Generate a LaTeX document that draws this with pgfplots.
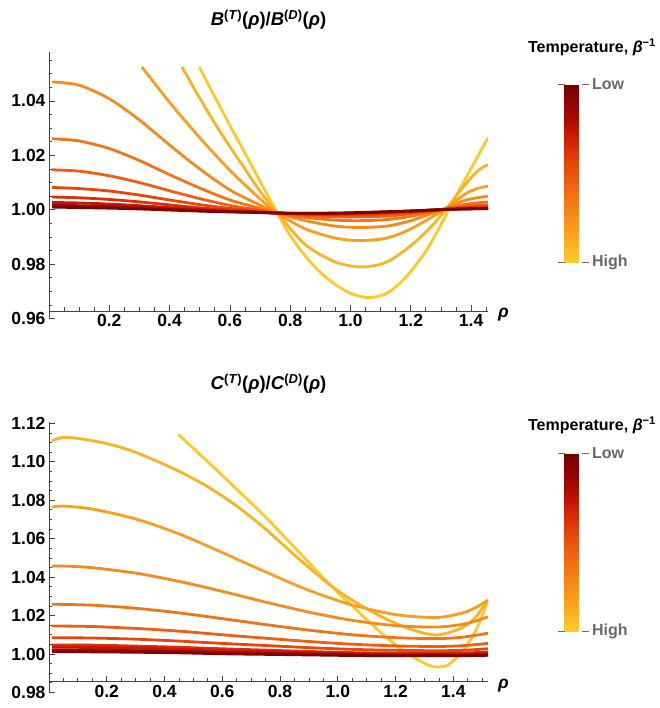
\documentclass[border=0pt]{standalone}
\usepackage{pgfplots}
\pgfplotsset{compat=1.18}
\usepackage{fontspec}
\setmainfont{Liberation Sans}

\newcommand{\ticfont}{\fontsize{17.5}{20}\selectfont\bfseries}
\newcommand{\ttlfont}{\fontsize{18.5}{21}\selectfont\bfseries}
\newcommand{\cbfont}{\fontsize{16}{19}\selectfont\bfseries}
\definecolor{axgray}{RGB}{70,70,70}
\definecolor{labgray}{RGB}{105,105,105}
% curve colours, high temperature (k1) to low (k11)
\definecolor{k1}{RGB}{254,200,39}
\definecolor{k2}{RGB}{252,178,33}
\definecolor{k3}{RGB}{249,158,29}
\definecolor{k4}{RGB}{246,139,26}
\definecolor{k5}{RGB}{243,116,21}
\definecolor{k6}{RGB}{240,95,15}
\definecolor{k7}{RGB}{231,72,10}
\definecolor{k8}{RGB}{217,49,5}
\definecolor{k9}{RGB}{198,26,0}
\definecolor{k10}{RGB}{162,9,0}
\definecolor{k11}{RGB}{128,2,0}

\pgfplotsset{
  ratioax/.style={
    scale only axis, width=439pt,
    axis lines=left,
    axis line style={axgray, line width=0.8pt, -},
    tick style={axgray, line width=0.8pt},
    tick align=inside,
    major tick length=6pt, minor tick length=3.5pt,
    xmin=0,
    xtick={0,0.2,0.4,0.6,0.8,1.0,1.2,1.4},
    xticklabels={,0.2,0.4,0.6,0.8,1.0,1.2,1.4},
    tick label style={font=\ticfont},
    /pgf/number format/assume math mode=true,
    yticklabel style={/pgf/number format/.cd, fixed, fixed zerofill, precision=2},
    xlabel={\textit{ρ}},
    xlabel style={font=\ticfont, inner sep=0pt},
    title style={font=\ttlfont, at={(0.5,1)}, anchor=base},
    every axis plot/.append style={line width=2.8pt, smooth, no markers, line join=round},
    colormap={temp}{rgb255(0pt)=(255,205,40); rgb255(15pt)=(250,165,30);
      rgb255(30pt)=(245,130,25); rgb255(45pt)=(240,95,15); rgb255(55pt)=(230,70,10);
      rgb255(70pt)=(205,30,0); rgb255(80pt)=(170,10,0); rgb255(100pt)=(115,0,0)},
    point meta min=0, point meta max=1,
    colorbar,
  },
  cbar/.style={colorbar style={
    at={(parent axis.north east)}, anchor=north west, xshift=68pt, yshift=-32pt,
    scale only axis, width=17pt, height=178pt,
    ytick={0,1}, yticklabels={High,Low},
    yticklabel style={font=\cbfont, text=labgray},
    major tick length=7pt, tick align=outside, tick style={labgray, line width=0.8pt},
    axis line style={draw=none},
    title={Temperature, \textit{β}\textsuperscript{−1}},
    title style={font=\cbfont, at={(0.5,1)}, anchor=base, xshift=19pt, yshift=#1},
  }},
}

\begin{document}
\begin{tikzpicture}
\begin{axis}[ratioax, cbar=25pt, name=top,
    height=266.6pt, ymin=0.96, ymax=1.058, xmax=1.456,
    axis x line shift=-7.6pt,
    ytick={0.96,0.98,1.00,1.02,1.04},
    minor ytick={0.965,0.97,0.975,0.985,0.99,0.995,1.005,1.01,1.015,1.025,1.03,1.035,1.045,1.05,1.055},
    minor xtick={0.05,0.1,0.15,0.25,0.3,0.35,0.45,0.5,0.55,0.65,0.7,0.75,0.85,0.9,0.95,1.05,1.1,1.15,1.25,1.3,1.35,1.45},
    xlabel style={at={(axis description cs:1,0)}, anchor=west, xshift=10pt, yshift=3.6pt},
    title={\textit{B}\textsuperscript{(\textit{T})}(\textit{ρ})/\textit{B}\textsuperscript{(\textit{D})}(\textit{ρ})},
    title style={yshift=20pt},
  ]
\addplot[k1] coordinates {(0.498,1.0525) (0.55,1.0415) (0.60,1.0310) (0.65,1.0208) (0.70,1.0105) (0.757,0.9988) (0.80,0.9905) (0.85,0.9830) (0.90,0.9770) (0.95,0.9725) (1.00,0.9693) (1.06,0.9677) (1.12,0.9693) (1.18,0.9748) (1.24,0.9832) (1.28,0.9905) (1.32,0.9988) (1.36,1.0072) (1.40,1.0152) (1.456,1.0265)};
\addplot[k2] coordinates {(0.441,1.0525) (0.50,1.0410) (0.55,1.0318) (0.60,1.0232) (0.65,1.0150) (0.70,1.0068) (0.757,0.9988) (0.85,0.9872) (0.95,0.9808) (1.04,0.9790) (1.12,0.9808) (1.20,0.9868) (1.26,0.9930) (1.31,0.9992) (1.36,1.0065) (1.40,1.0118) (1.43,1.0150) (1.456,1.0166)};
\addplot[k3] coordinates {(0.308,1.0525) (0.40,1.0395) (0.50,1.0265) (0.60,1.0145) (0.70,1.0040) (0.757,0.9988) (0.85,0.9930) (0.95,0.9896) (1.03,0.9887) (1.12,0.9896) (1.20,0.9930) (1.31,1.0000) (1.38,1.0058) (1.42,1.0078) (1.456,1.0087)};
\addplot[k4] coordinates {(0.01,1.0470) (0.10,1.0458) (0.20,1.0408) (0.30,1.0330) (0.40,1.0238) (0.50,1.0150) (0.60,1.0073) (0.70,1.0017) (0.757,0.9988) (0.85,0.9960) (0.95,0.9940) (1.03,0.9935) (1.12,0.9940) (1.20,0.9960) (1.31,1.0003) (1.38,1.0035) (1.456,1.0050)};
\addplot[k5] coordinates {(0.01,1.0261) (0.10,1.0253) (0.20,1.0225) (0.30,1.0181) (0.40,1.0129) (0.50,1.0080) (0.60,1.0036) (0.70,1.0005) (0.757,0.9988) (0.85,0.9972) (0.95,0.9962) (1.03,0.9960) (1.12,0.9964) (1.20,0.9976) (1.31,1.0002) (1.38,1.0020) (1.456,1.0029)};
\addplot[k6] coordinates {(0.01,1.0147) (0.10,1.0142) (0.20,1.0125) (0.30,1.0100) (0.40,1.0070) (0.50,1.0041) (0.60,1.0016) (0.70,0.9998) (0.757,0.9988) (0.85,0.9979) (0.95,0.9974) (1.03,0.9974) (1.12,0.9977) (1.20,0.9985) (1.31,1.0002) (1.38,1.0013) (1.456,1.0018)};
\addplot[k7] coordinates {(0.01,1.0082) (0.10,1.0078) (0.20,1.0069) (0.30,1.0054) (0.40,1.0036) (0.50,1.0019) (0.60,1.0005) (0.70,0.9994) (0.757,0.9988) (0.85,0.9983) (0.95,0.9981) (1.03,0.9981) (1.12,0.9985) (1.20,0.9990) (1.31,1.0001) (1.38,1.0008) (1.456,1.0011)};
\addplot[k8] coordinates {(0.01,1.0047) (0.10,1.0044) (0.20,1.0038) (0.30,1.0029) (0.40,1.0018) (0.50,1.0007) (0.60,0.9999) (0.70,0.9992) (0.757,0.9988) (0.85,0.9985) (0.95,0.9984) (1.03,0.9986) (1.12,0.9989) (1.20,0.9993) (1.31,1.0001) (1.38,1.0006) (1.456,1.0008)};
\addplot[k9] coordinates {(0.01,1.0027) (0.10,1.0025) (0.20,1.0021) (0.30,1.0015) (0.40,1.0008) (0.50,1.0001) (0.60,0.9995) (0.70,0.9991) (0.757,0.9988) (0.85,0.9986) (0.95,0.9986) (1.03,0.9988) (1.12,0.9991) (1.20,0.9995) (1.31,1.0001) (1.38,1.0004) (1.456,1.0006)};
\addplot[k10] coordinates {(0.01,1.0017) (0.10,1.0015) (0.20,1.0012) (0.30,1.0008) (0.40,1.0003) (0.50,0.9997) (0.60,0.9993) (0.70,0.9990) (0.757,0.9988) (0.85,0.9987) (0.95,0.9987) (1.03,0.9989) (1.12,0.9992) (1.20,0.9995) (1.31,1.0001) (1.38,1.0003) (1.456,1.0005)};
\addplot[k11] coordinates {(0.01,1.0010) (0.10,1.0008) (0.20,1.0006) (0.30,1.0003) (0.40,0.9999) (0.50,0.9995) (0.60,0.9992) (0.70,0.9990) (0.757,0.9988) (0.85,0.9987) (0.95,0.9988) (1.03,0.9990) (1.12,0.9993) (1.20,0.9996) (1.31,1.0001) (1.38,1.0003) (1.456,1.0004)};
\end{axis}

\begin{axis}[ratioax, cbar=17pt, at={(0pt,-373.8pt)},
    height=270.9pt, ymin=0.98, ymax=1.121, xmax=1.52,
    axis x line shift=-10.7pt,
    ytick={0.98,1.00,1.02,1.04,1.06,1.08,1.10,1.12},
    minor ytick={0.985,0.99,0.995,1.005,1.01,1.015,1.025,1.03,1.035,1.045,1.05,1.055,1.065,1.07,1.075,1.085,1.09,1.095,1.105,1.11,1.115},
    minor xtick={0.05,0.1,0.15,0.25,0.3,0.35,0.45,0.5,0.55,0.65,0.7,0.75,0.85,0.9,0.95,1.05,1.1,1.15,1.25,1.3,1.35,1.45,1.5},
    xlabel style={at={(axis description cs:1,0)}, anchor=west, xshift=10pt, yshift=6.4pt},
    title={\textit{C}\textsuperscript{(\textit{T})}(\textit{ρ})/\textit{C}\textsuperscript{(\textit{D})}(\textit{ρ})},
    title style={yshift=26pt},
  ]
\addplot[k1] coordinates {(0.448,1.1143) (0.55,1.1000) (0.65,1.0858) (0.75,1.0712) (0.85,1.0555) (0.96,1.0380) (1.05,1.0250) (1.15,1.0110) (1.22,1.0025) (1.28,0.9968) (1.33,0.9934) (1.38,0.9942) (1.43,1.0010) (1.48,1.0130) (1.52,1.0280)};
\addplot[k2] coordinates {(0.01,1.1110) (0.045,1.1126) (0.10,1.1122) (0.20,1.1095) (0.30,1.1050) (0.442,1.0957) (0.55,1.0870) (0.65,1.0770) (0.75,1.0650) (0.85,1.0515) (0.973,1.0359) (1.05,1.0280) (1.15,1.0195) (1.25,1.0130) (1.34,1.0099) (1.42,1.0130) (1.47,1.0180) (1.52,1.0280)};
\addplot[k3] coordinates {(0.01,1.0765) (0.05,1.0770) (0.15,1.0754) (0.30,1.0703) (0.45,1.0625) (0.60,1.0528) (0.75,1.0427) (0.90,1.0331) (1.05,1.0255) (1.20,1.0205) (1.34,1.0190) (1.43,1.0213) (1.48,1.0244) (1.52,1.0280)};
\addplot[k4] coordinates {(0.01,1.0457) (0.05,1.0458) (0.15,1.0449) (0.30,1.0421) (0.45,1.0378) (0.60,1.0326) (0.75,1.0270) (0.90,1.0218) (1.05,1.0175) (1.20,1.0148) (1.34,1.0140) (1.43,1.0154) (1.48,1.0173) (1.52,1.0194)};
\addplot[k5] coordinates {(0.01,1.0259) (0.15,1.0254) (0.30,1.0238) (0.45,1.0214) (0.60,1.0184) (0.75,1.0153) (0.90,1.0124) (1.05,1.0100) (1.20,1.0085) (1.34,1.0080) (1.43,1.0087) (1.52,1.0108)};
\addplot[k6] coordinates {(0.01,1.0146) (0.15,1.0143) (0.30,1.0133) (0.45,1.0119) (0.60,1.0100) (0.75,1.0082) (0.90,1.0065) (1.05,1.0051) (1.20,1.0042) (1.34,1.0039) (1.43,1.0043) (1.52,1.0055)};
\addplot[k7] coordinates {(0.01,1.0085) (0.15,1.0083) (0.30,1.0077) (0.45,1.0067) (0.60,1.0055) (0.75,1.0044) (0.90,1.0033) (1.05,1.0024) (1.20,1.0019) (1.34,1.0017) (1.43,1.0019) (1.52,1.0027)};
\addplot[k8] coordinates {(0.01,1.0047) (0.15,1.0046) (0.30,1.0041) (0.45,1.0035) (0.60,1.0027) (0.75,1.0020) (0.90,1.0013) (1.05,1.0007) (1.20,1.0004) (1.34,1.0003) (1.43,1.0005) (1.52,1.0009)};
\addplot[k9] coordinates {(0.01,1.0035) (0.15,1.0034) (0.30,1.0030) (0.45,1.0025) (0.60,1.0018) (0.75,1.0013) (0.90,1.0007) (1.05,1.0002) (1.20,0.9999) (1.34,0.9999) (1.43,1.0000) (1.52,1.0004)};
\addplot[k10] coordinates {(0.01,1.0021) (0.15,1.0020) (0.30,1.0017) (0.45,1.0013) (0.60,1.0008) (0.75,1.0004) (0.90,1.0000) (1.05,0.9996) (1.20,0.9994) (1.34,0.9994) (1.43,0.9994) (1.52,0.9997)};
\addplot[k11] coordinates {(0.01,1.0012) (0.15,1.0011) (0.30,1.0009) (0.45,1.0006) (0.60,1.0001) (0.75,0.9998) (0.90,0.9995) (1.05,0.9992) (1.20,0.9991) (1.34,0.9991) (1.43,0.9991) (1.52,0.9993)};
\end{axis}
\path (top.south west) ++(-49pt,318.6pt) coordinate (bbA);
\path (top.south west) ++(610pt,-389.4pt) coordinate (bbB);
\pgfresetboundingbox
\useasboundingbox (bbA) rectangle (bbB);
\end{tikzpicture}
\end{document}
